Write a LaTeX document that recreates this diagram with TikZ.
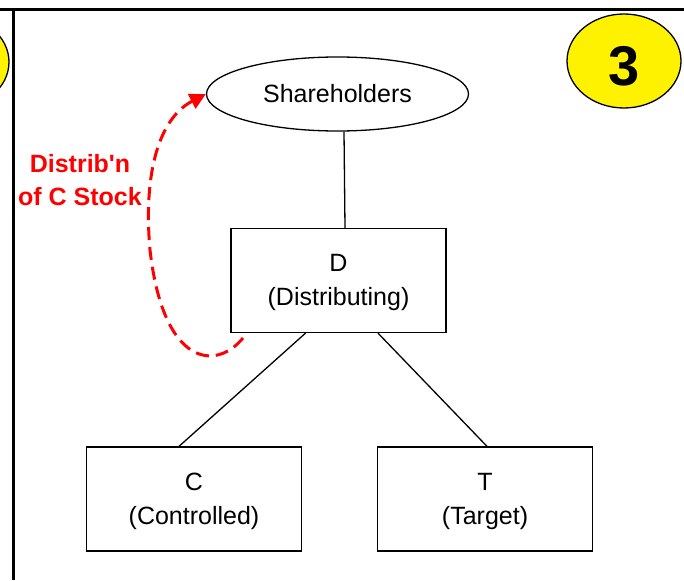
\documentclass[tikz,border=0pt]{standalone}
\usepackage{fontspec}
\setmainfont{Liberation Sans}
\usetikzlibrary{shapes.geometric,arrows.meta}
\newcommand{\lowerby}[2]{\raisebox{-#1}[\height][\depth]{#2}}
\begin{document}
\begin{tikzpicture}[x=1pt,y=-1pt,
  frame/.style={line width=3pt},
  entity/.style={draw,line width=1.3pt,rectangle,minimum width=215pt,minimum height=104pt,inner sep=0pt,align=center,
    font=\fontsize{25}{34}\selectfont},
  oval/.style={draw,line width=1.3pt,ellipse,minimum width=262pt,minimum height=74pt,inner sep=0pt,
    font=\fontsize{25}{30}\selectfont},
  badge/.style={draw,line width=1.3pt,ellipse,fill=yellow,minimum width=114pt,minimum height=94pt,inner sep=0pt,
    font=\fontsize{56}{60}\selectfont\bfseries},
  link/.style={line width=1.3pt},
  flow/.style={draw=red,line width=3pt,dash pattern=on 13pt off 7pt,-{Triangle[length=16pt,width=16pt]}},
  flowlabel/.style={text=red,font=\fontsize{25}{33}\selectfont\bfseries,align=center,inner sep=0pt}]
\useasboundingbox (0,0) rectangle (684,580);
\begin{scope}
\clip (0,0) rectangle (684,580);
\node[badge] (prev) at (-48,62) {};
\node[badge] (three) at (624,61) {\lowerby{5pt}{3}};
\end{scope}
\draw[frame] (0,9.5) -- (684,9.5);
\draw[frame] (13.5,9.5) -- (13.5,580);
\node[oval] (sh) at (337.5,94) {Shareholders};
\node[entity] (d) at (338.5,280.5) {\lowerby{2pt}{D}\\\lowerby{2pt}{(Distributing)}};
\node[entity] (c) at (194,499) {\lowerby{2pt}{C}\\\lowerby{2pt}{(Controlled)}};
\node[entity] (t) at (485,499) {\lowerby{2pt}{T}\\\lowerby{2pt}{(Target)}};
\draw[link] ([xshift=6.5pt]sh.south) -- ([xshift=6.5pt]d.north);
\draw[link] ([xshift=-33pt]d.south) -- ([xshift=-15pt]c.north);
\draw[link] ([xshift=39.5pt]d.south) -- ([xshift=2pt]t.north);
\coordinate (fstart) at (243,338);
\coordinate (fmid) at (150,250);
\draw[flow] (fstart) .. controls (215,372) and (163,365) .. (fmid)
  .. controls (143,170) and (160,118) .. (sh.west);
\node[flowlabel] (lbl) at (80,180) {Distrib\textquotesingle n\\of C Stock};
\end{tikzpicture}
\end{document}
